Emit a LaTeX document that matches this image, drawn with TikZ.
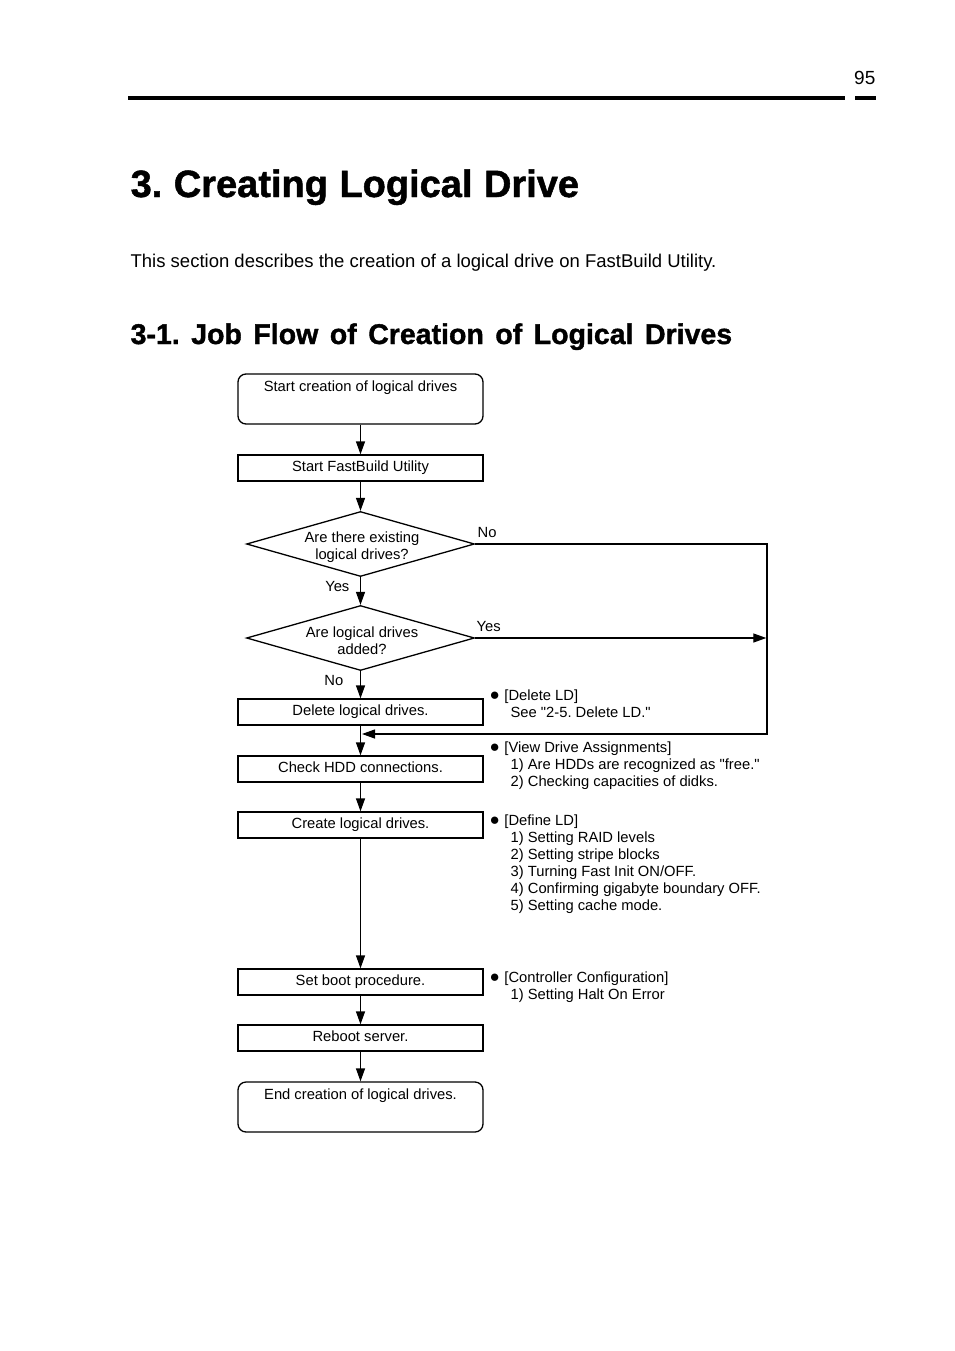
\documentclass[tikz,border=0pt]{standalone}
\usepackage{fontspec}
\setmainfont{Liberation Sans}[Ligatures=TeXOff]
\newfontfamily\headfont[FakeBold=1.3]{Liberation Sans Bold}
\usetikzlibrary{arrows.meta,shapes.geometric}
\newcommand\dfont{\fontsize{14.75}{17}\selectfont}
\newcommand\fst{\rule{0pt}{11pt}}
\newcommand\bul{{\fontsize{17}{17}\selectfont●}\hspace{4.5pt}}
\frenchspacing
\begin{document}
\begin{tikzpicture}[x=1pt,y=-1pt,line width=1.3pt,
  >={Triangle[length=13pt,width=9pt]},
  dtext/.style={font=\dfont,inner sep=0pt},
  box/.style={draw,minimum width=245pt,minimum height=26pt,inner sep=0pt,
    text height=10.5pt,text depth=3pt,font=\dfont},
  rbox/.style={draw,rounded corners=8pt,minimum width=245pt,minimum height=50pt,inner sep=0pt},
  dia/.style={draw,diamond,minimum width=228pt,minimum height=65pt,inner sep=0pt},
  ann/.style={font=\dfont,inner sep=0pt,anchor=north west,align=left}]
\useasboundingbox (0,0) rectangle (954,1351);
\fill[white] (0,0) rectangle (954,1351);
% header
\node[anchor=base east,inner sep=0pt,font=\fontsize{19}{21}\selectfont] (pg) at (876,85) {95};
\fill (128,96) rectangle (845,100);
\fill (855,96) rectangle (876,100);
\node[anchor=base west,inner sep=0pt,font=\headfont\fontsize{38}{42}\selectfont] (title) at (130,197) {\spaceskip=11.5pt\relax 3. Creating Logical Drive};
\node[anchor=base west,inner sep=0pt,font=\fontsize{18.5}{22}\selectfont] (body) at (130,267) {This section describes the creation of a logical drive on FastBuild Utility.};
\node[anchor=base west,inner sep=0pt,font=\headfont\fontsize{28.5}{34}\selectfont] (sub) at (130,344) {\spaceskip=11.5pt\relax 3-1. Job Flow of Creation of Logical Drives};
% flow
\node[rbox] (start) at (360.5,399) {};
\node[dtext,anchor=base] (startt) at (360.5,391.5) {Start creation of logical drives};
\node[box] (fb) at (360.5,468) {Start FastBuild Utility};
\node[dia] (d1) at (360.5,544) {};
\node[dtext,align=center] (d1t) at (362,547.5) {Are there existing\\logical drives?};
\node[dia] (d2) at (360.5,638) {};
\node[dtext,align=center] (d2t) at (362,641) {Are logical drives\\added?};
\node[box] (del) at (360.5,712) {Delete logical drives.};
\node[box] (chk) at (360.5,769) {Check HDD connections.};
\node[box] (crt) at (360.5,825) {Create logical drives.};
\node[box] (boot) at (360.5,982) {Set boot procedure.};
\node[box] (rb) at (360.5,1038) {Reboot server.};
\node[rbox] (end) at (360.5,1107) {};
\node[dtext,anchor=base] (endt) at (360.5,1099.5) {End creation of logical drives.};
% labels
\node[dtext,anchor=base west] (lno1) at (477,537) {No};
\node[dtext,anchor=base east] (lyes1) at (350,591) {Yes};
\node[dtext,anchor=base west] (lyes2) at (476,631) {Yes};
\node[dtext,anchor=base east] (lno2) at (344,685) {No};
% connectors
\coordinate (rtop) at (767,544);
\coordinate (rbot) at (767,734);
\coordinate (join) at (362,734);
\coordinate (rmid) at (766.3,638);
\draw[->] (start) -- (fb);
\draw[->] (fb) -- (d1);
\draw[->] (d1) -- (d2);
\draw[->] (d2) -- (del);
\draw[->] (del) -- (chk);
\draw[->] (chk) -- (crt);
\draw[->] (crt) -- (boot);
\draw[->] (boot) -- (rb);
\draw[->] (rb) -- (end);
\draw[->] (d1.east) -- (rtop) -- (rbot) -- (join);
\draw[->] (d2.east) -- (rmid);
% annotations
\node[ann] (n1) at (489,689) {\fst\bul[Delete LD]\\\hspace*{21pt}See "2-5. Delete LD."};
\node[ann] (n2) at (489,741) {\fst\bul[View Drive Assignments]\\\hspace*{21pt}1) Are HDDs are recognized as "free."\\\hspace*{21pt}2) Checking capacities of didks.};
\node[ann] (n3) at (489,814) {\fst\bul[Define LD]\\\hspace*{21pt}1) Setting RAID levels\\\hspace*{21pt}2) Setting stripe blocks\\\hspace*{21pt}3) Turning Fast Init ON/OFF.\\\hspace*{21pt}4) Confirming gigabyte boundary OFF.\\\hspace*{21pt}5) Setting cache mode.};
\node[ann] (n4) at (489,971) {\fst\bul[Controller Configuration]\\\hspace*{21pt}1) Setting Halt On Error};
\end{tikzpicture}
\end{document}
